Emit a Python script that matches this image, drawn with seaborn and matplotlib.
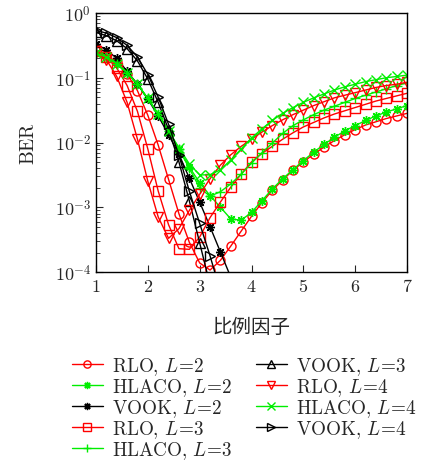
import numpy as np
import pandas as pd
import seaborn as sns
import matplotlib.pyplot as plt

# scaling factor (x axis)
x = [1.0, 1.2, 1.4, 1.6, 1.8, 2.0, 2.2, 2.4, 2.6, 2.8, 3.0, 3.2, 3.4, 3.6, 3.8, 4.0,
     4.2, 4.4, 4.6, 4.8, 5.0, 5.2, 5.4, 5.6, 5.8, 6.0, 6.2, 6.4, 6.6, 6.8, 7.0]
nan = np.nan

# log10(BER) for each curve
rlo2 = [-0.58, -0.65, -0.76, -0.94, -1.20, -1.58, -2.04, -2.57, -3.10, -3.54, -3.86, -3.97, -3.82, -3.60, -3.37, -3.14,
        -2.93, -2.74, -2.58, -2.43, -2.30, -2.18, -2.07, -1.97, -1.88, -1.80, -1.73, -1.68, -1.63, -1.59, -1.55]
hlaco2 = [-0.62, -0.68, -0.78, -0.92, -1.10, -1.32, -1.56, -1.82, -2.10, -2.38, -2.62, -2.82, -3.00, -3.18, -3.20, -3.08,
          -2.90, -2.72, -2.56, -2.42, -2.28, -2.15, -2.03, -1.92, -1.82, -1.74, -1.66, -1.59, -1.53, -1.48, -1.43]
vook2 = [-0.48, -0.57, -0.70, -0.90, -1.10, -1.33, -1.59, -1.88, -2.18, -2.55, -2.92, -3.30, -3.69, -4.08, nan, nan,
         nan, nan, nan, nan, nan, nan, nan, nan, nan, nan, nan, nan, nan, nan, nan]
rlo3 = [-0.58, -0.68, -0.85, -1.12, -1.52, -2.10, -2.75, -3.27, -3.64, -3.65, -3.46, -3.16, -2.92, -2.69, -2.49, -2.30,
        -2.17, -2.06, -1.95, -1.85, -1.76, -1.69, -1.62, -1.56, -1.51, -1.46, -1.41, -1.36, -1.32, -1.28, -1.24]
hlaco3 = [-0.62, -0.68, -0.78, -0.92, -1.10, -1.32, -1.56, -1.82, -2.10, -2.40, -2.70, -2.83, -2.76, -2.64, -2.49, -2.32,
          -2.16, -2.01, -1.86, -1.74, -1.65, -1.57, -1.50, -1.44, -1.38, -1.32, -1.27, -1.22, -1.17, -1.12, -1.08]
vook3 = [-0.30, -0.35, -0.43, -0.55, -0.74, -1.02, -1.38, -1.80, -2.30, -2.90, -3.55, -4.20, nan, nan, nan, nan,
         nan, nan, nan, nan, nan, nan, nan, nan, nan, nan, nan, nan, nan, nan, nan]
rlo4 = [-0.58, -0.72, -0.98, -1.38, -1.95, -2.60, -3.15, -3.48, -3.33, -3.05, -2.80, -2.56, -2.35, -2.19, -2.06, -1.95,
        -1.84, -1.74, -1.65, -1.57, -1.50, -1.43, -1.37, -1.31, -1.27, -1.23, -1.19, -1.15, -1.12, -1.10, -1.07]
hlaco4 = [-0.62, -0.68, -0.78, -0.92, -1.10, -1.32, -1.56, -1.82, -2.08, -2.33, -2.50, -2.50, -2.42, -2.27, -2.10, -1.93,
          -1.79, -1.66, -1.55, -1.46, -1.38, -1.31, -1.25, -1.19, -1.14, -1.10, -1.06, -1.03, -1.00, -0.98, -0.96]
vook4 = [-0.27, -0.31, -0.38, -0.50, -0.68, -0.95, -1.30, -1.72, -2.20, -2.75, -3.25, -3.75, -4.30, nan, nan, nan,
         nan, nan, nan, nan, nan, nan, nan, nan, nan, nan, nan, nan, nan, nan, nan]

labels = [r"$\mathrm{RLO,}\,L\!=\!2$", r"$\mathrm{HLACO,}\,L\!=\!2$", r"$\mathrm{VOOK,}\,L\!=\!2$",
          r"$\mathrm{RLO,}\,L\!=\!3$", r"$\mathrm{HLACO,}\,L\!=\!3$", r"$\mathrm{VOOK,}\,L\!=\!3$",
          r"$\mathrm{RLO,}\,L\!=\!4$", r"$\mathrm{HLACO,}\,L\!=\!4$", r"$\mathrm{VOOK,}\,L\!=\!4$"]
series = [rlo2, hlaco2, vook2, rlo3, hlaco3, vook3, rlo4, hlaco4, vook4]
colors = ["#ff0000", "#00ee00", "black"] * 3
markers = ["o", (8, 2, 0), (8, 2, 0), "s", "+", "^", "v", "x", ">"]

sns.set_theme(style="ticks")
plt.rcParams["mathtext.fontset"] = "cm"
plt.rcParams["font.family"] = ["DejaVu Serif"]

fig = plt.figure(figsize=(4.32, 4.64), dpi=100)
ax = fig.add_axes([96 / 432, 1 - 273 / 464, 311 / 432, 259 / 464])

for lab, s, c, m in zip(labels, series, colors, markers):
    df = pd.DataFrame({"x": x, "ber": 10 ** np.array(s)})
    sns.lineplot(x="x", y="ber", data=df, ax=ax, color=c, marker=m, label=lab,
                 markersize=6.5, mfc="none", mec=c, mew=1.0, lw=1.0)

ax.set_yscale("log")
ax.set_xlim(1, 7)
ax.set_ylim(1e-4, 1)
ax.set_xticks([1, 2, 3, 4, 5, 6, 7])
ax.set_xticklabels([f"${t}$" for t in range(1, 8)], fontsize=13)
ax.set_yticks([1e-4, 1e-3, 1e-2, 1e-1, 1])
ax.set_yticklabels([r"$10^{-4}$", r"$10^{-3}$", r"$10^{-2}$", r"$10^{-1}$", r"$10^{0}$"], fontsize=13)
ax.tick_params(which="both", direction="in", top=False, right=False)
ax.tick_params(which="major", length=5, width=0.8)
ax.tick_params(which="minor", length=3, width=0.6)
ax.tick_params(axis="x", which="minor", bottom=False)
for sp in ax.spines.values():
    sp.set_linewidth(1.0)
    sp.set_color("black")

ax.set_ylabel(r"$\mathrm{BER}$", fontsize=14, labelpad=12)
ax.set_xlabel("比例因子", fontsize=14, family=["Noto Sans CJK SC", "DejaVu Sans"], labelpad=15)

ax.get_legend().remove()
handles, labs = ax.get_legend_handles_labels()
fig.legend(handles, labs, ncol=2, loc="upper left", bbox_to_anchor=(72 / 432, 1 - 356 / 464),
           frameon=False, fontsize=13.8, handlelength=1.6, handletextpad=0.5, columnspacing=1.2,
           labelspacing=-0.05, borderpad=0, borderaxespad=0, markerscale=0.8)

fig.savefig("out.png", dpi=100)
